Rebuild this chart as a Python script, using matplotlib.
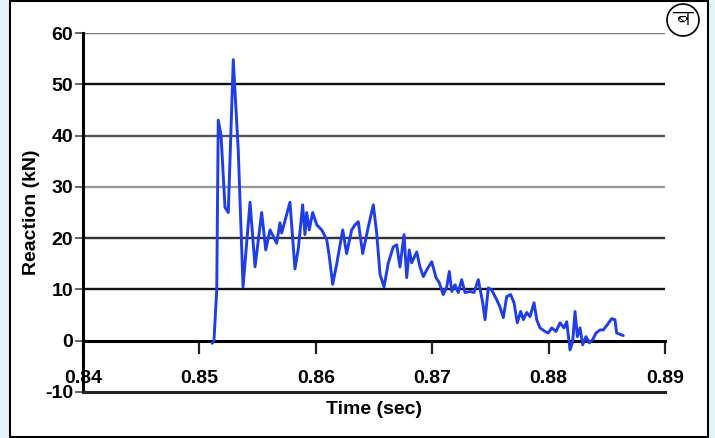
import matplotlib
matplotlib.use('Agg')
import matplotlib.pyplot as plt
from matplotlib.patches import Rectangle, Ellipse
from matplotlib import font_manager, ft2font

# reaction trace
time_s = [0.85110, 0.85125, 0.85149, 0.85162, 0.85186, 0.85220, 0.85248, 0.85291,
          0.85334, 0.85375, 0.85435, 0.85478, 0.85535, 0.85570, 0.85607, 0.85664,
          0.85692, 0.85707, 0.85778, 0.85821, 0.85850, 0.85887, 0.85907, 0.85922,
          0.85944, 0.85973, 0.86008, 0.86051, 0.86094, 0.86116, 0.86145, 0.86180,
          0.86231, 0.86265, 0.86308, 0.86337, 0.86365, 0.86403, 0.86451, 0.86494,
          0.86523, 0.86552, 0.86586, 0.86623, 0.86666, 0.86695, 0.86723, 0.86758,
          0.86781, 0.86803, 0.86824, 0.86867, 0.86895, 0.86924, 0.86953, 0.86996,
          0.87033, 0.87061, 0.87095, 0.87125, 0.87147, 0.87168, 0.87196, 0.87224,
          0.87253, 0.87282, 0.87325, 0.87359, 0.87396, 0.87434, 0.87454, 0.87482,
          0.87511, 0.87554, 0.87582, 0.87611, 0.87640, 0.87674, 0.87703, 0.87731,
          0.87760, 0.87783, 0.87812, 0.87840, 0.87875, 0.87898, 0.87926, 0.87969,
          0.87997, 0.88027, 0.88064, 0.88098, 0.88132, 0.88156, 0.88184, 0.88207,
          0.88227, 0.88247, 0.88270, 0.88293, 0.88321, 0.88350, 0.88379, 0.88407,
          0.88442, 0.88470, 0.88504, 0.88542, 0.88570, 0.88585, 0.88619, 0.88642]
reaction_kn = [-0.5, 0.0, 10.0, 43.0, 40.0, 26.0, 25.0, 54.8,
               37.0, 10.5, 27.0, 14.4, 25.0, 17.7, 21.6, 19.0,
               23.0, 21.0, 27.0, 14.0, 18.0, 26.5, 20.7, 25.0,
               21.6, 25.0, 22.6, 21.6, 19.7, 16.4, 11.0, 15.0,
               21.6, 17.0, 21.6, 22.6, 23.2, 17.0, 22.2, 26.5,
               21.0, 12.9, 10.5, 15.2, 18.3, 18.7, 14.4, 20.7,
               12.3, 17.7, 15.2, 17.3, 14.4, 12.5, 13.8, 15.4,
               12.3, 11.3, 9.0, 10.5, 13.5, 9.6, 10.9, 9.4,
               11.9, 9.4, 9.6, 9.4, 11.9, 7.4, 4.1, 10.3,
               9.9, 8.0, 6.6, 4.5, 8.6, 9.0, 7.4, 3.5,
               5.7, 4.1, 5.5, 4.7, 7.4, 4.1, 2.5, 1.8,
               1.5, 2.5, 1.8, 3.5, 2.5, 3.7, -1.8, -0.2,
               5.7, 0.8, 2.5, -0.8, 0.8, -0.4, 0.2, 1.5,
               2.1, 2.1, 3.1, 4.3, 4.1, 1.5, 1.2, 1.0]

x_ticks = [0.84, 0.85, 0.86, 0.87, 0.88, 0.89]
x_labels = ['0.84', '0.85', '0.86', '0.87', '0.88', '0.89']
y_ticks = [-10, 0, 10, 20, 30, 40, 50, 60]
grid_vals = [10, 20, 30, 40, 50, 60]
grid_cols = ['#111111', '#333333', '#999999', '#555555', '#111111', '#777777']

plt.rcParams['font.family'] = ['Liberation Sans', 'DejaVu Sans']
plt.rcParams['axes.unicode_minus'] = False


def devanagari_font():
    for f in font_manager.fontManager.ttflist:
        try:
            if 0x092C in ft2font.FT2Font(f.fname).get_charmap():
                return f.name
        except Exception:
            pass
    return 'DejaVu Sans'


fig = plt.figure(figsize=(7.15, 4.38), dpi=100)
fig.patch.set_facecolor('#e6f3fa')
frame = Rectangle((10 / 715, 1 / 438), 698 / 715, 436 / 438, transform=fig.transFigure,
                  facecolor='white', edgecolor='black', linewidth=1.5, zorder=-10)
fig.add_artist(frame)

ax = fig.add_axes([83 / 715, 46 / 438, 582 / 715, 359 / 438])
ax.set_facecolor('none')

for v, c in zip(grid_vals, grid_cols):
    ax.axhline(v, color=c, linewidth=1.7, zorder=1)
ax.axhline(-10, color='#222222', linewidth=2.2, zorder=3, clip_on=False)

ax.plot(time_s, reaction_kn, color='#1f3ee8', linewidth=2.1, zorder=4,
        solid_joinstyle='round', solid_capstyle='round')

ax.set_xlim(0.84, 0.89)
ax.set_ylim(-10, 60)

for s in ['top', 'right']:
    ax.spines[s].set_visible(False)
ax.spines['left'].set_linewidth(2.2)
ax.spines['bottom'].set_position(('data', 0))
ax.spines['bottom'].set_linewidth(2.2)

ax.set_xticks(x_ticks)
ax.set_xticklabels(x_labels)
ax.set_yticks(y_ticks)
ax.tick_params(axis='x', direction='out', length=9, width=1.6, pad=12,
               labelsize=14, colors='#222222', labelcolor='black')
ax.tick_params(axis='y', direction='out', length=6, width=1.4, pad=1,
               labelsize=14, colors='#666666', labelcolor='black')
for lab in ax.get_xticklabels() + ax.get_yticklabels():
    lab.set_fontweight('bold')

ax.set_ylabel('Reaction (kN)', fontsize=14, fontweight='bold', labelpad=4)
fig.text(374 / 715, 1 - 410 / 438, 'Time (sec)', ha='center', va='center',
         fontsize=14, fontweight='bold')

badge = Ellipse((683 / 715, 1 - 20 / 438), 32 / 715, 32 / 438, transform=fig.transFigure,
                facecolor='white', edgecolor='black', linewidth=1.2)
fig.add_artist(badge)
fig.text(683 / 715, 1 - 20 / 438, 'ब', ha='center', va='center', fontsize=15,
         fontweight='bold', family=[devanagari_font(), 'DejaVu Sans'])

fig.savefig('out.png', dpi=100, facecolor=fig.get_facecolor())
